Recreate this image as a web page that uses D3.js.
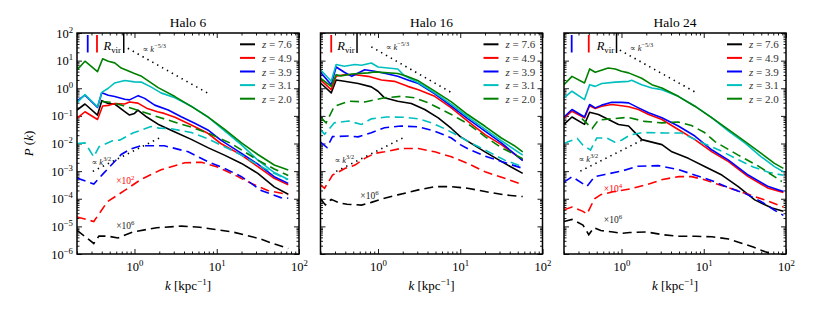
<!DOCTYPE html>
<html>
<head>
<meta charset="utf-8">
<script src="https://cdn.jsdelivr.net/npm/d3@7"></script>
<style>
  body { margin: 0; background: #fff; }
  svg, svg text { font-family: "Liberation Serif", "DejaVu Serif", "Times New Roman", Tinos, serif !important; }
</style>
</head>
<body>
<svg id="chart" width="830" height="310" font-family="Liberation Serif, DejaVu Serif, serif"></svg>
<script>
// ---- data (k in kpc^-1, P(k)) ----
const haloNames = ["Halo 6", "Halo 16", "Halo 24"];
const redshifts = ["7.6", "4.9", "3.9", "3.1", "2.0"];
const zColors = ["#000000", "#ff0000", "#0000ff", "#00bfbf", "#008000"];

// Halo 6
const h6_solid_z76 = [[0.2,0.162],[0.25,0.269],[0.355,0.107],[0.40,0.355],[0.48,0.282],[0.575,0.269],[0.72,0.162],[0.87,0.107],[1.0,0.123],[1.1,0.162],[1.41,0.091],[1.93,0.05],[3.1,0.026],[4.9,0.0141],[7.8,0.0071],[12.4,0.0038],[20,0.0019],[31.6,8.3e-4],[50,2.7e-4],[74,1.45e-4]];
const h6_solid_z49 = [[0.2,0.081],[0.25,0.141],[0.355,0.074],[0.41,0.229],[0.48,0.24],[0.575,0.282],[0.76,0.269],[0.87,0.32],[1.1,0.29],[1.4,0.19],[1.9,0.14],[2.3,0.123],[3.1,0.089],[4.9,0.047],[7.8,0.0234],[11.2,0.01],[20,0.0038],[31.6,0.00145],[50,5.5e-4],[74,3.2e-4]];
const h6_solid_z39 = [[0.2,0.347],[0.25,0.56],[0.355,0.204],[0.40,0.69],[0.48,0.56],[0.575,0.50],[0.76,0.40],[0.87,0.38],[1.11,0.54],[1.33,0.43],[1.76,0.245],[2.57,0.162],[3.7,0.093],[5.4,0.054],[7.8,0.031],[11.2,0.0132],[20,0.0044],[31.6,0.00178],[50,6.3e-4],[74,3.6e-4]];
const h6_solid_z31 = [[0.2,0.30],[0.25,0.59],[0.355,0.214],[0.40,0.71],[0.48,1.0],[0.575,1.55],[0.76,1.9],[1.0,1.7],[1.22,1.66],[1.58,1.12],[2.1,0.68],[3.1,0.45],[4.9,0.224],[7.8,0.091],[12.6,0.028],[20,0.0089],[31.6,0.0025],[50,8.9e-4],[74,5.0e-4]];
const h6_solid_z20 = [[0.2,4.6],[0.25,9.5],[0.355,4.0],[0.41,11.7],[0.48,9.5],[0.575,8.3],[0.69,5.4],[1.0,3.4],[1.22,2.7],[1.58,1.6],[1.94,1.05],[3.1,0.5],[4.9,0.22],[7.8,0.092],[12.6,0.032],[20,0.0105],[31.6,0.004],[50,0.00166],[74,0.0011]];
const h6_dash_z76 = [[0.2,7.2e-6],[0.32,2.4e-6],[0.37,4.5e-6],[0.48,4.4e-6],[0.63,3.8e-6],[0.955,6.3e-6],[1.86,8.9e-6],[3.7,1.02e-5],[6.2,9.3e-6],[15.5,6.3e-6],[33,3.6e-6],[48,2.4e-6],[74,1.58e-6]];
const h6_dash_z49 = [[0.2,2.2e-5],[0.32,1.5e-5],[0.47,7.9e-5],[0.76,2.0e-4],[1.2,5.0e-4],[2.1,0.00112],[4.1,0.002],[6.5,0.0021],[10.2,0.0014],[15.1,8.3e-4],[26.3,3.6e-4],[41.7,2.0e-4],[74,1.4e-4]];
const h6_dash_z39 = [[0.2,5.6e-4],[0.32,3.4e-4],[0.42,8.3e-4],[0.69,0.004],[0.89,0.0063],[1.2,0.0083],[2.3,0.0083],[4.5,0.005],[7.8,0.0022],[12.4,0.00126],[20,6.3e-4],[34.7,2.0e-4],[60,1.1e-4],[74,1.05e-4]];
const h6_dash_z31 = [[0.2,0.01],[0.25,0.0105],[0.32,0.0033],[0.37,0.0076],[0.54,0.0126],[0.66,0.0132],[0.955,0.024],[1.26,0.032],[1.58,0.041],[2.0,0.036],[2.8,0.034],[4.9,0.025],[7.8,0.015],[12.4,0.0076],[20,0.0038],[34.7,0.00145],[50,8.3e-4],[72,5.0e-4]];
const h6_dash_z20 = [[0.40,0.33],[0.525,0.31],[0.92,0.19],[1.94,0.091],[3.1,0.059],[4.9,0.039],[7.8,0.024],[15,0.01],[31.6,0.0025],[50,0.0012],[74,7.0e-4]];

// Halo 16
const h16_solid_z76 = [[0.2,1.55],[0.27,0.68],[0.31,2.0],[0.39,1.78],[0.575,1.48],[0.83,1.12],[1.0,0.78],[1.2,0.45],[1.74,0.34],[2.54,0.28],[3.7,0.17],[5.4,0.085],[7.8,0.035],[10,0.0178],[20,0.005],[34.7,0.0019],[57.5,8.3e-4]];
const h16_solid_z49 = [[0.2,2.0],[0.27,0.89],[0.31,2.7],[0.39,3.1],[0.525,3.1],[0.76,2.7],[1.1,2.0],[1.58,1.78],[2.3,1.17],[3.1,0.89],[4.9,0.51],[7.8,0.195],[12.3,0.065],[20,0.021],[31.6,0.0091],[57.5,0.0025]];
const h16_solid_z39 = [[0.2,3.8],[0.27,1.35],[0.31,5.9],[0.39,3.8],[0.48,2.7],[0.69,4.7],[0.91,4.1],[1.2,3.5],[1.74,2.7],[2.3,2.0],[3.1,1.48],[4.9,0.63],[7.8,0.224],[12.3,0.079],[20,0.028],[31.6,0.0105],[57.5,0.0024]];
const h16_solid_z31 = [[0.2,4.7],[0.27,1.78],[0.31,7.2],[0.39,6.3],[0.525,7.2],[0.63,6.8],[0.83,8.2],[1.0,5.9],[1.32,5.4],[1.74,5.0],[2.1,2.8],[3.1,1.58],[4.9,0.68],[7.8,0.26],[12.3,0.093],[20,0.033],[31.6,0.0126],[57.5,0.0038]];
const h16_solid_z20 = [[0.2,2.3],[0.27,1.17],[0.31,3.1],[0.355,2.8],[0.48,3.3],[0.76,3.6],[0.91,3.9],[1.74,3.4],[2.2,2.8],[3.1,1.86],[4.9,0.79],[7.8,0.32],[12.3,0.112],[20,0.042],[31.6,0.0158],[45,0.0085],[57.5,0.005]];
const h16_dash_z76 = [[0.2,1.0e-4],[0.229,6.0e-5],[0.27,9.5e-5],[0.34,7.1e-5],[0.42,6.3e-5],[0.63,5.9e-5],[0.83,7.4e-5],[1.2,1.05e-4],[1.74,1.38e-4],[3.1,2.1e-4],[4.9,2.75e-4],[7.8,2.75e-4],[12.3,2.4e-4],[20,1.82e-4],[34.7,1.38e-4],[57.5,1.2e-4]];
const h16_dash_z49 = [[0.2,3.2e-4],[0.224,2.4e-4],[0.28,7.2e-4],[0.40,0.00126],[0.525,0.00166],[0.69,0.0029],[0.91,0.0044],[1.2,0.005],[1.9,0.0066],[3.1,0.0066],[4.9,0.005],[7.8,0.0033],[12.3,0.0019],[20,9.5e-4],[34.7,5.5e-4],[57.5,3.2e-4]];
const h16_dash_z39 = [[0.2,0.0112],[0.24,0.0071],[0.28,0.0178],[0.44,0.0186],[0.575,0.0174],[0.83,0.0245],[1.2,0.037],[1.9,0.043],[3.1,0.04],[4.9,0.028],[7.8,0.0158],[10,0.0091],[12.6,0.0063],[20,0.0035],[31.6,0.00224],[57.5,0.00126]];
const h16_dash_z31 = [[0.2,0.032],[0.224,0.0214],[0.295,0.056],[0.44,0.065],[0.63,0.049],[0.83,0.078],[1.26,0.091],[2.1,0.089],[3.1,0.078],[4.5,0.056],[6.5,0.034],[9.3,0.0195],[13.5,0.0105],[20,0.0058],[34.7,0.0025],[57.5,0.00145]];
const h16_dash_z20 = [[0.204,0.085],[0.234,0.056],[0.295,0.224],[0.44,0.34],[0.69,0.32],[1.2,0.45],[1.9,0.51],[2.8,0.45],[4.1,0.295],[5.9,0.17],[7.8,0.112],[12.6,0.05],[20,0.0178],[31.6,0.0071],[57.5,0.0028]];

// Halo 24
const h24_solid_z76 = [[0.2,0.049],[0.25,0.091],[0.355,0.049],[0.41,0.135],[0.525,0.112],[0.695,0.074],[0.92,0.049],[1.22,0.043],[1.4,0.028],[1.77,0.0138],[2.34,0.0112],[3.1,0.0091],[4.1,0.005],[6.5,0.0029],[10.4,0.00145],[16.6,7.2e-4],[26.3,2.75e-4],[41.7,9.1e-5],[67.6,4.6e-5],[93,3.5e-5]];
const h24_solid_z49 = [[0.2,0.085],[0.25,0.148],[0.355,0.085],[0.41,0.234],[0.48,0.186],[0.575,0.224],[0.76,0.257],[1.0,0.234],[1.22,0.214],[1.61,0.17],[2.14,0.112],[3.1,0.074],[4.9,0.032],[7.8,0.0138],[12.6,0.005],[20,0.0022],[34.7,6.3e-4],[61,2.4e-4],[93,1.7e-4]];
const h24_solid_z39 = [[0.2,0.091],[0.25,0.17],[0.355,0.091],[0.41,0.257],[0.48,0.195],[0.575,0.245],[0.76,0.309],[1.0,0.309],[1.22,0.295],[1.61,0.195],[2.14,0.129],[3.1,0.085],[4.9,0.043],[7.8,0.0186],[12.6,0.0058],[20,0.0025],[34.7,7.2e-4],[61,2.75e-4],[93,1.82e-4]];
const h24_solid_z31 = [[0.2,0.45],[0.25,0.78],[0.355,0.39],[0.41,1.35],[0.48,1.17],[0.575,1.48],[0.84,1.66],[1.22,1.78],[1.33,1.95],[1.76,1.35],[2.34,1.02],[3.1,0.89],[4.9,0.51],[7.8,0.224],[12.6,0.085],[20,0.028],[31.6,0.0105],[50,0.0033],[72.4,0.00145],[93,9.5e-4]];
const h24_solid_z20 = [[0.2,1.35],[0.25,2.7],[0.355,1.55],[0.41,5.0],[0.48,3.8],[0.69,5.4],[0.84,5.0],[1.0,4.1],[1.22,3.6],[1.76,2.3],[2.34,1.35],[3.1,1.02],[4.9,0.51],[7.8,0.224],[12.6,0.085],[20,0.032],[31.6,0.012],[50,0.0044],[72.4,0.0019],[93,0.00126]];
const h24_dash_z76 = [[0.2,1.5e-5],[0.25,1.78e-5],[0.34,1.12e-5],[0.40,5.0e-6],[0.46,8.9e-6],[0.56,7.1e-6],[0.79,6.3e-6],[1.0,5.6e-6],[1.26,6.0e-6],[2.0,6.3e-6],[3.16,5.0e-6],[5.0,4.4e-6],[7.9,4.4e-6],[12.6,4.2e-6],[20,3.5e-6],[28.2,2.5e-6],[40,1.78e-6],[56,1.2e-6],[89,7.9e-7]];
const h24_dash_z49 = [[0.2,4.0e-5],[0.25,5.0e-5],[0.34,3.5e-5],[0.38,2.8e-5],[0.47,1.0e-4],[0.56,1.41e-4],[0.79,1.78e-4],[1.26,2.24e-4],[2.0,3.2e-4],[3.16,5.0e-4],[5.0,6.3e-4],[7.1,6.3e-4],[10,5.0e-4],[14.1,3.5e-4],[22.4,2.24e-4],[35.5,1.41e-4],[56,8.9e-5],[93,5.0e-5]];
const h24_dash_z39 = [[0.2,4.0e-4],[0.25,6.3e-4],[0.38,2.8e-4],[0.47,6.3e-4],[0.63,7.6e-4],[1.0,0.001],[1.58,0.0015],[2.8,0.00158],[5.0,0.00112],[7.9,7.1e-4],[12.6,4.5e-4],[20,2.5e-4],[31.6,1.58e-4],[50,7.9e-5],[71,4.0e-5],[93,2.5e-5]];
const h24_dash_z31 = [[0.2,0.01],[0.224,0.0115],[0.29,0.0151],[0.34,0.0087],[0.42,0.0058],[0.50,0.0158],[0.66,0.0158],[0.83,0.0112],[1.0,0.0132],[1.26,0.02],[1.78,0.025],[3.4,0.024],[5.4,0.024],[6.8,0.017],[10,0.01],[15.8,0.0056],[25,0.0028],[40,0.0014],[63,8.9e-4],[93,7.1e-4]];
const h24_dash_z20 = [[0.33,0.079],[0.44,0.035],[0.525,0.071],[0.79,0.079],[1.2,0.089],[1.9,0.063],[3.1,0.056],[4.9,0.06],[7.1,0.045],[10.2,0.025],[13.8,0.0115],[26.3,0.0038],[45.7,0.00155],[89,4.2e-4]];

// 1/R_vir markers: [k, redshift index]
const rvir_h6 = [[0.74,0],[0.35,1],[0.27,2]];
const rvir_h16 = [[0.556,0],[0.27,1]];
const rvir_h24 = [[0.87,0],[0.40,1],[0.248,2]];

// power-law guide lines (end points)
const guideSteep = [[[0.83,28],[7.8,0.66]], [[0.83,31.6],[7.8,0.7]], [[0.955,24],[7.9,0.72]]];
const guideShallow = [[[0.311,9.8e-4],[2.0,0.0158]], [[0.31,9.8e-4],[2.0,0.0158]], [[0.316,1.0e-3],[1.78,0.0133]]];
// label anchors [k, P]
const steepLabelAt = [[1.25,20],[1.24,24],[1.26,22]];
const shallowLabelAt = [[0.30,1.66e-3],[0.295,1.95e-3],[0.30,2.1e-3]];
const rvirLabelAt = [[0.42,24],[0.32,24],[0.50,24]];
// scale-factor notes: [k, P, exponent, redshift index]
const notes_h6 = [[0.60,3.4e-4,"2",1],[0.60,7.9e-6,"6",0]];
const notes_h16 = [[0.61,9.8e-5,"6",0]];
const notes_h24 = [[0.61,1.74e-4,"4",1],[0.61,1.3e-5,"6",0]];

const panels = [
  { solid: [h6_solid_z76, h6_solid_z49, h6_solid_z39, h6_solid_z31, h6_solid_z20],
    dash: [h6_dash_z76, h6_dash_z49, h6_dash_z39, h6_dash_z31, h6_dash_z20], rvir: rvir_h6, notes: notes_h6 },
  { solid: [h16_solid_z76, h16_solid_z49, h16_solid_z39, h16_solid_z31, h16_solid_z20],
    dash: [h16_dash_z76, h16_dash_z49, h16_dash_z39, h16_dash_z31, h16_dash_z20], rvir: rvir_h16, notes: notes_h16 },
  { solid: [h24_solid_z76, h24_solid_z49, h24_solid_z39, h24_solid_z31, h24_solid_z20],
    dash: [h24_dash_z76, h24_dash_z49, h24_dash_z39, h24_dash_z31, h24_dash_z20], rvir: rvir_h24, notes: notes_h24 }
];

// ---- layout ----
const serif = "Liberation Serif, DejaVu Serif, serif";
const panelLeft = [77, 320.5, 564];
const panelTop = 33, pw = 222, ph = 221;

const svg = d3.select("#chart");

const x = d3.scaleLog().domain([0.2, 100]).range([0, pw]);
const y = d3.scaleLog().domain([1e-6, 1e2]).range([ph, 0]);

const majorK = [1, 10, 100];
const minorK = [];
[0.1, 1, 10].forEach(b => { for (let m = 2; m <= 9; m++) { const v = m * b; if (v >= 0.2 && v <= 100) minorK.push(v); } });
const majorP = d3.range(-6, 3).map(e => Math.pow(10, e));
const minorP = [];
d3.range(-6, 2).forEach(e => { for (let m = 2; m <= 9; m++) minorP.push(m * Math.pow(10, e)); });

const line = d3.line().x(d => x(d[0])).y(d => y(d[1]));

function powLabel(sel, exp) {
  sel.text(null);
  sel.append("tspan").text("10");
  sel.append("tspan").attr("font-size", "0.7em").attr("dy", "-0.55em").text(exp.replace("-", "\u2212"));
}

panels.forEach((pan, pi) => {
  const g = svg.append("g").attr("transform", `translate(${panelLeft[pi]},${panelTop})`);

  g.append("clipPath").attr("id", "clip" + pi)
    .append("rect").attr("width", pw).attr("height", ph);

  // title
  g.append("text").attr("x", pw / 2).attr("y", -6).attr("text-anchor", "middle")
    .attr("font-size", 13.5).attr("font-family", serif).text(haloNames[pi]);

  // axes with inward ticks
  const bottom = g.append("g").attr("transform", `translate(0,${ph})`)
    .call(d3.axisBottom(x).tickValues(majorK).tickSize(-5).tickPadding(8).tickSizeOuter(0));
  bottom.attr("font-family", serif);
  bottom.selectAll(".tick text").attr("font-size", 12.5)
    .each(function (d) { powLabel(d3.select(this), String(Math.round(Math.log10(d)))); });
  g.append("g").attr("transform", `translate(0,${ph})`)
    .call(d3.axisBottom(x).tickValues(minorK).tickSize(-2.5).tickFormat("").tickSizeOuter(0));
  g.append("g").call(d3.axisTop(x).tickValues(majorK).tickSize(-5).tickFormat("").tickSizeOuter(0));
  g.append("g").call(d3.axisTop(x).tickValues(minorK).tickSize(-2.5).tickFormat("").tickSizeOuter(0));

  const left = g.append("g")
    .call(d3.axisLeft(y).tickValues(majorP).tickSize(-5).tickPadding(4).tickSizeOuter(0));
  left.attr("font-family", serif);
  if (pi === 0) {
    left.selectAll(".tick text").attr("font-size", 12.5)
      .each(function (d) { powLabel(d3.select(this), String(Math.round(Math.log10(d)))); });
  } else {
    left.selectAll(".tick text").remove();
  }
  g.append("g").call(d3.axisLeft(y).tickValues(minorP).tickSize(-2.5).tickFormat("").tickSizeOuter(0));
  g.append("g").attr("transform", `translate(${pw},0)`)
    .call(d3.axisRight(y).tickValues(majorP).tickSize(-5).tickFormat("").tickSizeOuter(0));
  g.append("g").attr("transform", `translate(${pw},0)`)
    .call(d3.axisRight(y).tickValues(minorP).tickSize(-2.5).tickFormat("").tickSizeOuter(0));
  g.selectAll(".domain").remove();
  g.selectAll(".tick line").attr("stroke", "#000").attr("stroke-width", 0.9);

  const plot = g.append("g").attr("clip-path", `url(#clip${pi})`);

  // data curves
  redshifts.forEach((z, zi) => {
    plot.append("path").datum(pan.solid[zi]).attr("d", line)
      .attr("fill", "none").attr("stroke", zColors[zi]).attr("stroke-width", 1.6)
      .attr("stroke-linejoin", "round");
    plot.append("path").datum(pan.dash[zi]).attr("d", line)
      .attr("fill", "none").attr("stroke", zColors[zi]).attr("stroke-width", 1.6)
      .attr("stroke-dasharray", "9,5");
  });

  // guide power laws
  [guideSteep[pi], guideShallow[pi]].forEach(seg => {
    plot.append("path").datum(seg).attr("d", line).attr("fill", "none")
      .attr("stroke", "#000").attr("stroke-width", 1.6).attr("stroke-dasharray", "1.4,4.2");
  });
  const gl = (at, exp) => {
    const t = g.append("text").attr("x", x(at[0])).attr("y", y(at[1]))
      .attr("font-size", 8.5).attr("font-family", serif).attr("fill", "#222");
    t.append("tspan").text("\u221d ");
    t.append("tspan").attr("font-style", "italic").text("k");
    t.append("tspan").attr("font-size", "0.75em").attr("dy", "-0.6em").text(exp);
  };
  gl(steepLabelAt[pi], "\u22125/3");
  gl(shallowLabelAt[pi], "3/2");

  // R_vir markers
  pan.rvir.forEach(([k, zi]) => {
    plot.append("line").attr("x1", x(k)).attr("x2", x(k))
      .attr("y1", zi === 0 ? 0 : 2).attr("y2", zi === 0 ? 20 : 19.5)
      .attr("stroke", zColors[zi]).attr("stroke-width", zi === 0 ? 1.5 : 1.8);
  });
  const rt = g.append("text").attr("x", x(rvirLabelAt[pi][0])).attr("y", y(rvirLabelAt[pi][1]))
    .attr("font-size", 12.5).attr("font-family", serif);
  rt.append("tspan").attr("font-style", "italic").text("R");
  rt.append("tspan").attr("font-size", "0.7em").attr("dy", "0.3em").text("vir");

  // scale notes
  pan.notes.forEach(([k, P, exp, zi]) => {
    const t = g.append("text").attr("x", x(k)).attr("y", y(P)).attr("font-size", 9.5)
      .attr("font-family", serif).attr("fill", zi === 0 ? "#222" : zColors[zi]);
    t.append("tspan").text("\u00d710");
    t.append("tspan").attr("font-size", "0.72em").attr("dy", "-0.6em").text(exp);
  });

  // legend
  const lg = g.append("g").attr("transform", `translate(163,11.3)`);
  redshifts.forEach((z, zi) => {
    const row = lg.append("g").attr("transform", `translate(0,${zi * 13.6})`);
    row.append("line").attr("x1", 0).attr("x2", 15).attr("stroke", zColors[zi]).attr("stroke-width", 2);
    const t = row.append("text").attr("x", 22).attr("y", 4).attr("font-size", 11)
      .attr("font-family", serif).attr("fill", "#333");
    t.append("tspan").attr("font-style", "italic").text("z");
    t.append("tspan").text(" = " + z);
  });

  // frame
  g.append("rect").attr("width", pw).attr("height", ph).attr("fill", "none")
    .attr("stroke", "#000").attr("stroke-width", 1.5);

  // x label
  const xl = g.append("text").attr("x", pw / 2).attr("y", 290 - panelTop).attr("text-anchor", "middle")
    .attr("font-size", 13).attr("font-family", serif);
  xl.append("tspan").attr("font-style", "italic").text("k");
  xl.append("tspan").text(" [kpc");
  xl.append("tspan").attr("font-size", "0.7em").attr("dy", "-0.55em").text("\u22121");
  xl.append("tspan").attr("dy", "0.385em").text("]");
});

// y label
const yl = svg.append("text").attr("transform", `translate(33,${panelTop + ph / 2}) rotate(-90)`)
  .attr("text-anchor", "middle").attr("font-size", 13).attr("font-family", serif);
yl.append("tspan").attr("font-style", "italic").text("P");
yl.append("tspan").text(" (");
yl.append("tspan").attr("font-style", "italic").text("k");
yl.append("tspan").text(")");
</script>
</body>
</html>
